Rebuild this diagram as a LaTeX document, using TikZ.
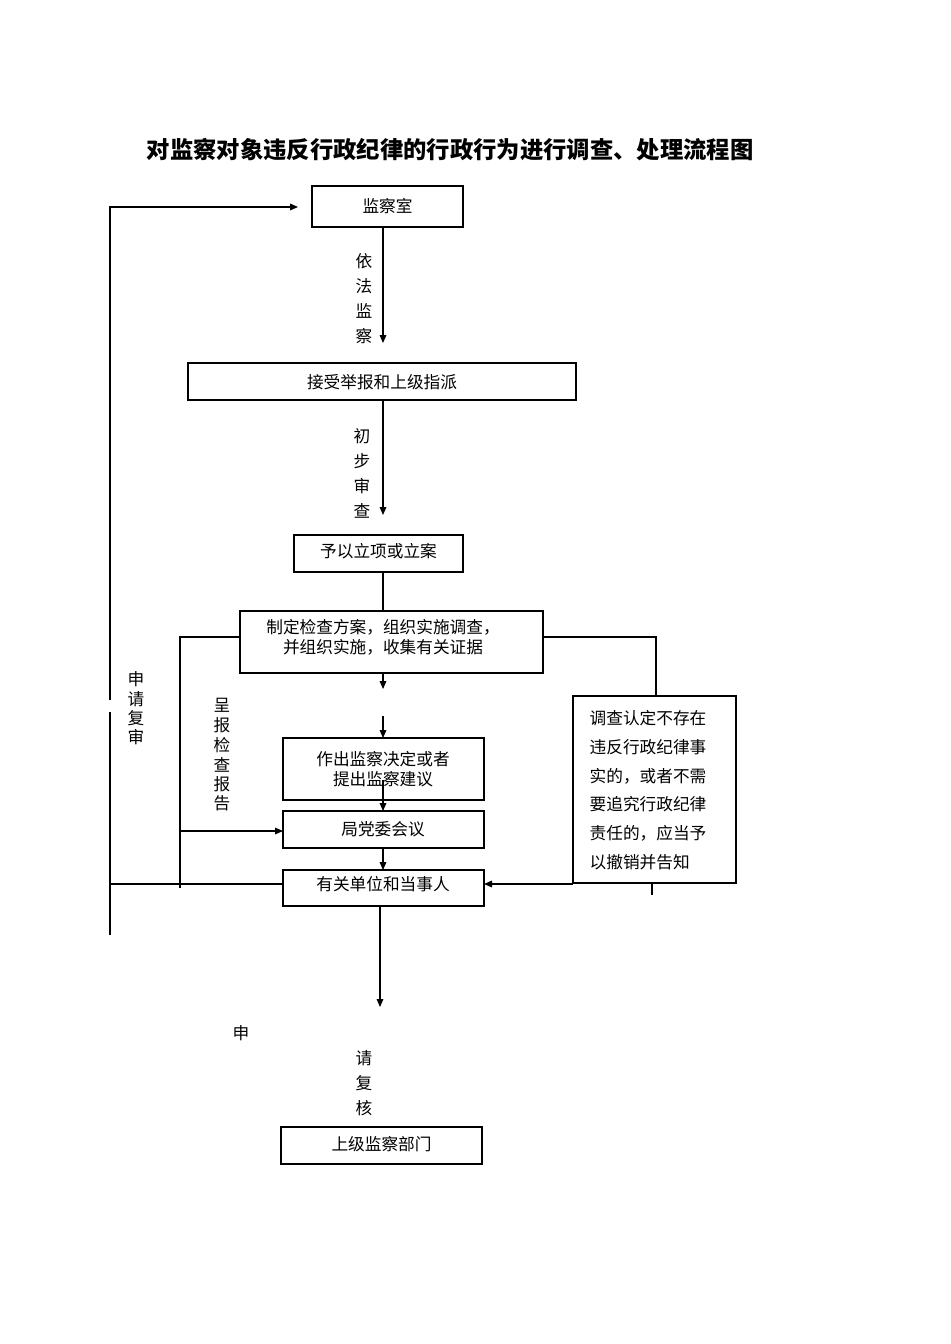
\documentclass[tikz,border=0pt]{standalone}
\usepackage{fontspec}
\setmainfont{Noto Sans CJK SC}
\usetikzlibrary{arrows.meta}
\begin{document}
\begin{tikzpicture}[x=0.75pt,y=-0.75pt,
 bx/.style={draw,thick,inner sep=0pt},
 t/.style={font=\fontsize{12.5}{15}\selectfont},
 ar/.style={-{Triangle[length=6pt,width=5pt]}},
 ln/.style={line width=0.8pt}]
\useasboundingbox (0,0) rectangle (950,1344);
\node[font=\bfseries\fontsize{17.5}{20}\selectfont] (title) at (450,150) {对监察对象违反行政纪律的行政行为进行调查、处理流程图};
\draw[bx] (312,186) rectangle (463,227); \node[t] (a) at (387.5,206.5) {监察室};
\draw[bx] (188,363) rectangle (576,400); \node[t] (b) at (382,382) {接受举报和上级指派};
\draw[bx] (294,535) rectangle (463,572); \node[t] (c) at (378.5,551) {予以立项或立案};
\draw[bx] (240,611) rectangle (543,673);
\node[t,align=center] (d) at (383,637) {制定检查方案，组织实施调查，\\并组织实施，收集有关证据};
\draw[bx] (283,738) rectangle (484,800);
\node[t,align=center,text width=200pt] (e) at (383,769) {作出监察决定或者\\提出监察建议};
\draw[bx] (283,811) rectangle (484,848); \node[t] (f) at (383,829.5) {局党委会议};
\draw[bx] (283,870) rectangle (484,906); \node[t] (g) at (383,884) {有关单位和当事人};
\draw[bx] (573,696) rectangle (736,883);
\node[t,align=left,anchor=north west,font=\fontsize{12.5}{21.5}\selectfont] (h) at (585,706) {调查认定不存在\\违反行政纪律事\\实的，或者不需\\要追究行政纪律\\责任的，应当予\\以撤销并告知};
\draw[bx] (281,1127) rectangle (482,1164); \node[t] (k) at (381.5,1144) {上级监察部门};
% arrows
\draw[ln,ar] (383,227) -- (383,343);
\foreach \s/\y in {依/261,法/286,监/311,察/336} \node[t] at (364,\y) {\s};
\draw[ln,ar] (383,400) -- (383,515);
\foreach \s/\y in {初/436,步/461,审/486,查/511} \node[t] at (362,\y) {\s};
\draw[ln] (383,572) -- (383,611);
\draw[ln,ar] (383,673) -- (383,689);
\draw[ln,ar] (383,716) -- (383,738);
\draw[ln,ar] (383,780) -- (383,811);
\draw[ln,ar] (383,848) -- (383,870);
\draw[ln,ar] (380,906) -- (380,1007);
\draw[ln] (240,637) -- (180,637) -- (180,888);
\draw[ln,ar] (180,831) -- (283,831);
\draw[ln] (543,637) -- (656,637) -- (656,696);
\draw[ln,ar] (573,884) -- (484,884);
\draw[ln] (652,883) -- (652,895);
\draw[ln] (110,884) -- (283,884);
\draw[ln] (110,935) -- (110,712);
\draw[ln,ar] (110,700) -- (110,207) -- (298,207);
\foreach \s/\y in {申/679,请/699,复/718,审/737} \node[t] at (136,\y) {\s};
\foreach \s/\y in {呈/705,报/725,检/745,查/765,报/784,告/803} \node[t] at (222,\y) {\s};
\node[t] at (241,1033) {申};
\foreach \s/\y in {请/1058,复/1083,核/1108} \node[t] at (364,\y) {\s};
\end{tikzpicture}
\end{document}
